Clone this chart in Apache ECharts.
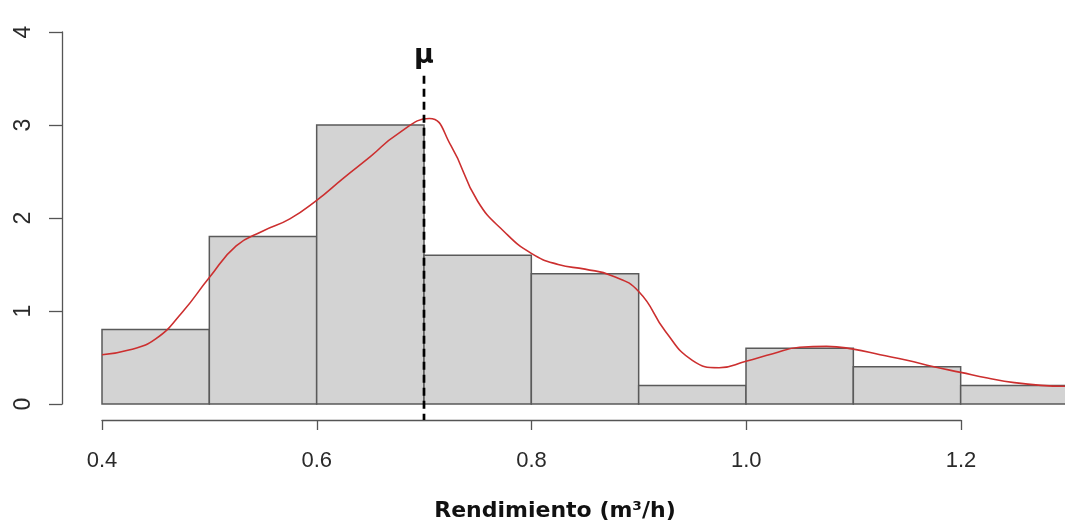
<!DOCTYPE html>
<html><head><meta charset="utf-8">
<script src="https://cdn.jsdelivr.net/npm/echarts@6/dist/echarts.min.js"></script>
<style>html,body{margin:0;padding:0;background:#fff}#c{width:1065px;height:523px}</style>
</head><body><div id="c"></div>
<script>
// ---- data ----
const binStarts = [0.4, 0.5, 0.6, 0.7, 0.8, 0.9, 1.0, 1.1, 1.2];
const binWidth = 0.1;
const binHeights = [0.8, 1.8, 3.0, 1.6, 1.4, 0.2, 0.6, 0.4, 0.2];
const densityX = [0.400, 0.425, 0.450, 0.475, 0.500, 0.525, 0.550, 0.575, 0.600, 0.625, 0.650, 0.675, 0.705,
                  0.725, 0.750, 0.775, 0.800, 0.825, 0.850, 0.875, 0.900, 0.925, 0.950, 0.975, 1.000, 1.025, 1.050,
                  1.075, 1.100, 1.125, 1.150, 1.175, 1.200, 1.225, 1.250, 1.275, 1.300];
const densityY = [0.53, 0.58, 0.70, 0.99, 1.36, 1.70, 1.86, 1.99, 2.19, 2.43, 2.66, 2.90, 3.07,
                  2.78, 2.18, 1.85, 1.62, 1.50, 1.45, 1.38, 1.21, 0.78, 0.47, 0.39, 0.46, 0.54, 0.61,
                  0.62, 0.59, 0.53, 0.47, 0.40, 0.34, 0.28, 0.23, 0.20, 0.19];
const xTickLabels = ['0.4', '0.6', '0.8', '1.0', '1.2'];
const yTickLabels = ['0', '1', '2', '3', '4'];
const meanValue = 0.7;
const meanLineTop = 3.53;
const meanLabel = 'μ';
const xTitle = 'Rendimiento (m³/h)';

// ---- chart ----
const chart = echarts.init(document.getElementById('c'), null, {renderer: 'canvas'});
const axisColor = '#555';
const textColor = '#2a2a2a';
const font = '"Liberation Sans", Arial, sans-serif';

const option = {
  animation: false,
  backgroundColor: '#fff',
  grid: [
    {left: 102, width: 966, top: 32, height: 372, outerBoundsMode: 'none', containLabel: false},
    {left: 102, width: 859, top: 32, height: 372, outerBoundsMode: 'none', containLabel: false}
  ],
  xAxis: [
    {gridIndex: 0, type: 'value', min: 0.4, max: 1.3, show: false},
    {gridIndex: 1, type: 'value', min: 0.4, max: 1.2, interval: 0.2, offset: 16,
     axisLine: {show: true, onZero: false, lineStyle: {color: axisColor, width: 1.3}},
     axisTick: {show: true, length: 10, lineStyle: {color: axisColor, width: 1.3}},
     splitLine: {show: false},
     axisLabel: {margin: 30, fontSize: 22, color: textColor, fontFamily: font,
       formatter: v => xTickLabels[Math.round((v - 0.4) / 0.2)]}}
  ],
  yAxis: [
    {gridIndex: 0, type: 'value', min: 0, max: 4, interval: 1, offset: 40,
     axisLine: {show: true, lineStyle: {color: axisColor, width: 1.3}},
     axisTick: {show: true, length: 13, lineStyle: {color: axisColor, width: 1.3}},
     splitLine: {show: false},
     axisLabel: {rotate: 90, margin: 27, fontSize: 23, color: textColor, fontFamily: font,
       formatter: v => yTickLabels[Math.round(v)]}},
    {gridIndex: 1, type: 'value', min: 0, max: 4, show: false}
  ],
  series: [
    {
      type: 'custom', xAxisIndex: 0, yAxisIndex: 0, z: 2,
      data: binStarts.map((s, i) => [s, s + binWidth, binHeights[i]]),
      encode: {x: [0, 1], y: 2},
      renderItem: (params, api) => {
        const p0 = api.coord([api.value(0), api.value(2)]);
        const p1 = api.coord([api.value(1), 0]);
        return {type: 'rect', shape: {x: p0[0], y: p0[1], width: p1[0] - p0[0], height: p1[1] - p0[1]},
                style: {fill: '#d3d3d3', stroke: '#5a5a5a', lineWidth: 1.5}};
      }
    },
    {
      type: 'line', xAxisIndex: 0, yAxisIndex: 0, z: 3,
      data: densityX.map((x, i) => [x, densityY[i]]),
      smooth: 0.5, showSymbol: false, symbol: 'none',
      lineStyle: {color: '#cc2f2f', width: 1.6}
    },
    {
      type: 'custom', xAxisIndex: 0, yAxisIndex: 0, z: 4, clip: false,
      data: [[meanValue, meanLineTop]],
      renderItem: (params, api) => {
        const top = api.coord([api.value(0), api.value(1)]);
        const bot = api.coord([api.value(0), 0]);
        return {type: 'group', children: [
          {type: 'line', shape: {x1: top[0], y1: top[1], x2: bot[0], y2: bot[1] + 16},
           style: {stroke: '#000', lineWidth: 2.7, lineDash: [8, 5]}},
          {type: 'text', x: top[0], y: top[1] - 6,
           style: {text: meanLabel, fill: '#111', font: 'bold 27px "DejaVu Sans", sans-serif', align: 'center', verticalAlign: 'bottom'}}
        ]};
      }
    },
    {type: 'line', xAxisIndex: 1, yAxisIndex: 1, data: [], showSymbol: false}
  ],
  graphic: [
    {type: 'text', x: 555, y: 511,
     style: {text: xTitle, fill: '#111', font: 'bold 22px "DejaVu Sans", sans-serif', align: 'center', verticalAlign: 'middle'}}
  ]
};
chart.setOption(option);
</script>
</body></html>
